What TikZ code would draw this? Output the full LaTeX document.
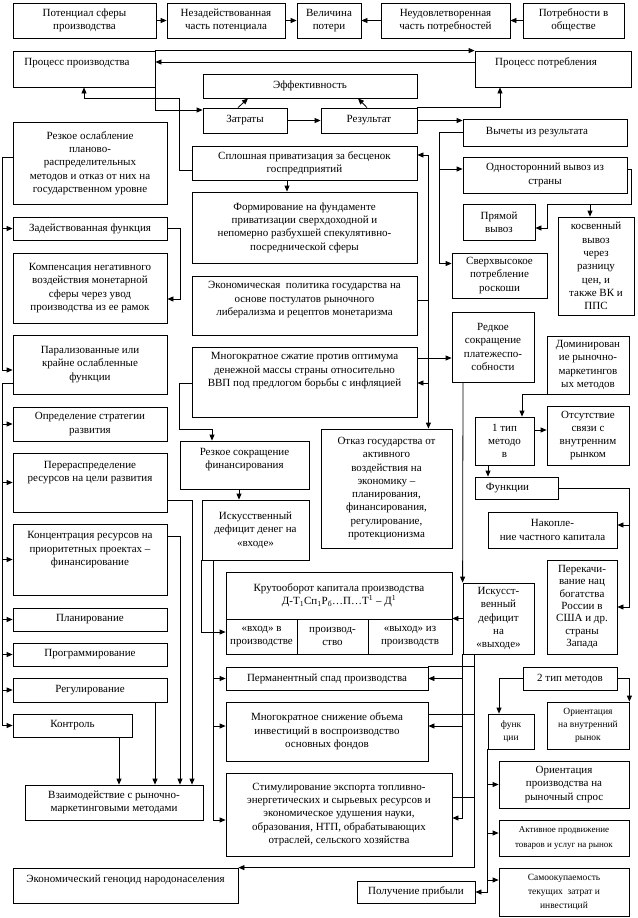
\documentclass[tikz,border=0pt]{standalone}
\usepackage{fontspec}
\setmainfont{Liberation Serif}
\usetikzlibrary{arrows.meta, positioning}

\begin{document}
\begin{tikzpicture}[x=1pt, y=-1pt, line width=0.8pt, >={Triangle[length=6pt,width=5pt]},
  bx/.style={draw, inner sep=1pt, align=center, font=\fontsize{11}{13.3}\selectfont},
  wh/.style 2 args={minimum width=#1pt, minimum height=#2pt},
  sm/.style={font=\fontsize{9.5}{13}\selectfont}
]
\useasboundingbox (0,0) rectangle (637,918);

% top row
\node[bx, wh={143}{35}] (potencial) at (84.5,20.5) {Потенциал сферы\\производства};
\node[bx, wh={118}{35}] (nezad) at (226,20.5) {Незадействованная\\часть потенциала};
\node[bx, wh={64}{35}] (velich) at (329,20.5) {Величина\\потери};
\node[bx, wh={129}{35}] (neudov) at (445.5,20.5) {Неудовлетворенная\\часть потребностей};
\node[bx, wh={101}{35}] (potreb) at (573.5,20.5) {Потребности в\\обществе};

% processes
\node[bx, wh={142}{36}] (prproizv) at (84,69) {Процесс производства\hspace*{14pt}\\[1.5pt]\mbox{}};
\node[bx, wh={156}{36}] (prpotr) at (553,69) {Процесс потребления\hspace*{14pt}\\[1.5pt]\mbox{}};
\node[bx, wh={214}{24}] (effekt) at (310,86) {Эффективность};
\node[bx, wh={84}{25}] (zatr) at (245,120.5) {Затраты};
\node[bx, wh={96}{25}] (rezult) at (369,120.5) {Результат};
\node[bx, wh={164}{27}] (vychety) at (545,132.5) {Вычеты из результата\hspace*{16pt}};

% middle column
\node[bx, wh={225}{34}] (sploshn) at (304.5,163) {Сплошная приватизация за бесценок\\госпредприятий};
\node[bx, wh={225}{71}] (formir) at (304.5,227.5) {Формирование на фундаменте\\приватизации сверхдоходной и\\непомерно разбухшей спекулятивно-\\посреднической сферы};
\node[bx, wh={225}{59}] (ekpol) at (304.5,305.5) {Экономическая\ \ политика государства на\\основе постулатов рыночного\\либерализма и рецептов монетаризма\\[0.5pt]\mbox{}};
\node[bx, wh={225}{70}] (szhatie) at (304.5,382) {Многократное сжатие против оптимума\\денежной массы страны относительно\\ВВП под предлогом борьбы с инфляцией\\[11.5pt]\mbox{}};
\node[bx, wh={131}{119}] (otkaz) at (386.5,488.5) {Отказ государства от\\активного\\воздействия на\\экономику –\\планирования,\\финансирования,\\регулирование,\\протекционизма};
\node[bx, wh={129}{48}] (rezsokr) at (244.5,465) {Резкое сокращение\\финансирования\\[-0.5pt]\mbox{}};
\node[bx, wh={107}{60}] (iskdef) at (255.5,530) {Искусственный\\дефицит денег на\\«входе»};
\node[bx, wh={226}{47}] (krugtop) at (339,595.5) {Крутооборот капитала производства\\Д-Т\textsubscript{1}Сп\textsubscript{1}Р\textsubscript{б}…П…Т\textsuperscript{1} – Д\textsuperscript{1}};
\node[bx, wh={71}{35}] (krvhod) at (261.5,636.5) {«вход» в\\производстве};
\node[bx, wh={71}{35}] (krproizv) at (332.5,636.5) {производ-\\ство};
\node[bx, wh={84}{35}] (krvyhod) at (410,636.5) {«выход» из\\производств};
\node[bx, wh={202}{23}] (perman) at (327,678.5) {Перманентный спад производства};
\node[bx, wh={202}{59}] (snizh) at (327,731.5) {Многократное снижение объема\\инвестиций в воспроизводство\\основных фондов};
\node[bx, wh={226}{83}] (stimul) at (339,814.5) {Стимулирование экспорта топливно-\\энергетических и сырьевых ресурсов и\\экономическое удушения науки,\\образования, НТП, обрабатывающих\\отраслей, сельского хозяйства};
\node[bx, wh={118}{22}] (pribyl) at (416,892) {Получение прибыли};

% left column
\node[bx, wh={154}{82}] (oslab) at (90,163) {Резкое ослабление\\планово-\\распределительных\\методов и отказ от них на\\государственном уровне};
\node[bx, wh={154}{23}] (zadeistv) at (90,228.5) {Задействованная функция};
\node[bx, wh={154}{70}] (kompens) at (90,288) {Компенсация негативного\\воздействия монетарной\\сферы через увод\\производства из ее рамок};
\node[bx, wh={154}{59}] (paraliz) at (90,364.5) {Парализованные или\\крайне ослабленные\\функции};
\node[bx, wh={154}{34}] (opredel) at (90,424) {Определение стратегии\\развития};
\node[bx, wh={154}{59}] (pereraspr) at (90,482.5) {Перераспределение\\ресурсов на цели развития\\[9.5pt]\mbox{}};
\node[bx, wh={154}{71}] (konc) at (90,559.5) {Концентрация ресурсов на\\приоритетных проектах –\\финансирование\\[8.5pt]\mbox{}};
\node[bx, wh={154}{23}] (plan) at (90,619.5) {Планирование};
\node[bx, wh={154}{23}] (progr) at (90,654.5) {Программирование};
\node[bx, wh={154}{24}] (regul) at (90,690) {Регулирование};
\node[bx, wh={119}{23}] (kontrol) at (72.5,725.5) {Контроль};
\node[bx, wh={178}{35}] (vzaim) at (114,802.5) {Взаимодействие с рыночно-\\маркетинговыми методами};
\node[bx, wh={225}{35}] (genocid) at (125.5,885.5) {Экономический геноцид народонаселения\\[0.5pt]\mbox{}};

% right column
\node[bx, wh={164}{36}] (odnostor) at (545,175) {Односторонний вывоз из\\страны};
\node[bx, wh={72}{36}] (pryam) at (499,222) {Прямой\\вывоз};
\node[bx, wh={76}{98}] (kosv) at (596,266) {косвенный\\вывоз\\через\\разницу\\цен, и\\также ВК и\\ППС};
\node[bx, wh={95}{45}] (sverh) at (499.5,275.5) {Сверхвысокое\\потребление\\роскоши};
\node[bx, wh={82}{70}] (redk) at (493,347) {Редкое\\сокращение\\платежеспо-\\собности};
\node[bx, wh={82}{58}] (domin) at (588,365) {Доминирован\\ие рыночно-\\маркетингов\\ых методов};
\node[bx, wh={59}{48}] (tip1) at (504.5,441) {1 тип\\методо\\в};
\node[bx, wh={82}{59}] (otsutstv) at (588,435.5) {Отсутствие\\связи с\\внутренним\\рынком};
\node[bx, wh={83}{22}] (funkcii) at (516.5,488) {Функции\hspace*{18pt}};
\node[bx, wh={129}{36}] (nakopl) at (552.5,530) {Накопле-\\ние частного капитала};
\node[bx, wh={70}{94}, font=\fontsize{11}{12.3}\selectfont] (perekach) at (582,607) {Перекачи-\\вание нац\\богатства\\России в\\США и др.\\страны\\Запада};
\node[bx, wh={71}{71}] (iskvyh) at (498.5,618.5) {Искусст-\\венный\\дефицит\\на\\«выходе»};
\node[bx, wh={94}{23}] (tip2) at (570,678.5) {2 тип методов};
\node[bx, wh={46}{35}, sm] (fnk) at (511,731.5) {функ\\ции};
\node[bx, wh={82}{47}, sm] (orvnutr) at (588,725.5) {Ориентация\\на внутренний\\рынок};
\node[bx, wh={130}{47}] (orspros) at (564,784.5) {Ориентация\\производства на\\рыночный спрос};
\node[bx, wh={130}{36}, font=\fontsize{9}{15}\selectfont] (aktiv) at (564,838) {Активное продвижение\\товаров и услуг на рынок};
\node[bx, wh={130}{48}, font=\fontsize{9.5}{14}\selectfont] (samook) at (564,892) {Самоокупаемость\\текущих\ \ затрат и\\инвестиций};

% connectors: top
\draw[->] (potencial) -- (nezad);
\draw[->] (nezad) -- (velich);
\draw[->] (neudov) -- (velich);
\draw[->] (potreb) -- (neudov);
\draw[->] (prproizv.north east) -- (prpotr.north west);
\draw[->] ([yshift=7pt]prpotr.west) -- ([yshift=7pt]prproizv.east);
\draw[->] (prproizv.south east) |- ([yshift=10.5pt]zatr.west);
\draw[->] (zatr) -- (rezult);
\draw[->] ([xshift=-7pt]zatr.north) -- ([xshift=-62pt]effekt.south);
\draw[->] ([xshift=-2pt]rezult.north) -- ([xshift=48pt]effekt.south);
\draw[->] (rezult.north east) -| ([xshift=-53pt]prpotr.south);
\draw[->] (rezult.east) -- (rezult.east -| vychety.west);
\draw[->] ([yshift=-7pt]sploshn.west) -- ++(-12,0) -- ++(0,-72) -| (prproizv.south);

% right branch
\draw[->] (vychety.west) -- ++(-23,0) coordinate (bv) |- ([yshift=12pt]sverh.west);
\draw[->] ([yshift=6pt]odnostor.west -| bv) -- ([yshift=6pt]odnostor.west);
\coordinate (jk) at (631,204);
\draw[->] ([yshift=6pt]odnostor.east) -| (jk) -- ++(-84,0) |- ([yshift=-6pt]pryam.east);
\draw[->] ([xshift=-6pt]kosv.north |- jk) -- ([xshift=-6pt]kosv.north);

% middle branch
\draw[->] ([xshift=-17.5pt]sploshn.south) -- ([xshift=-17.5pt]formir.north);
\draw ([yshift=5.5pt]ekpol.east) -- ++(11,0) coordinate (bus);
\draw[->] (bus) |- ([yshift=8pt]sploshn.east);
\draw[->] (bus) -- (bus |- otkaz.north);
\draw[->] ([yshift=-1pt]szhatie.east -| bus) -- ([yshift=-1pt]szhatie.east);
\draw[->] ([yshift=24pt]szhatie.east) -- ([yshift=24pt]szhatie.east -| redk.west);
\draw[->] ([yshift=-1pt]szhatie.west) -- ++(-12,0) -- ++(0,46) -| ([xshift=-32.5pt]rezsokr.north);
\draw[->] ([xshift=-5.5pt]rezsokr.south) -- ([xshift=-5.5pt]rezsokr.south |- iskdef.north);
\draw[->] (iskdef.south west) |- ([yshift=4.5pt]krvhod.west);
\draw[->] ([xshift=-42.5pt]iskdef.south) coordinate (bl3) |- ([yshift=-5.5pt]stimul.west);
\draw[->] (bl3 |- perman.west) -- (perman.west);
\draw[->] ([yshift=5.5pt]snizh.west -| bl3) -- ([yshift=5.5pt]snizh.west);

% left branch
\draw[->] ([yshift=6pt]oslab.west) -- ++(-10,0) coordinate (bl1) |- ([yshift=-5.5pt]paraliz.west);
\draw[->] (bl1 |- zadeistv.west) -- (zadeistv.west);
\draw[->] (zadeistv.east) -- ++(13,0) |- ([yshift=-11pt]kompens.east);
\draw[->] ([yshift=-18.5pt]paraliz.west) -- ++(-10,0) coordinate (bl2) |- (kontrol.west);
\foreach \n in {opredel, pereraspr, konc, plan, progr, regul}
  \draw[->] (bl2 |- \n.west) -- (\n.west);
\draw[->] ([yshift=-17.5pt]pereraspr.east) -| ([xshift=78pt]vzaim.north);
\draw[->] ([yshift=23.5pt]konc.east) -| ([xshift=66pt]vzaim.north);
\draw[->] ([xshift=65pt]regul.south) -- ([xshift=65pt]regul.south |- vzaim.north);
\draw[->] ([xshift=46.5pt]kontrol.south) -- ([xshift=46.5pt]kontrol.south |- vzaim.north);

% output deficit
\draw[->] ([xshift=-30pt]redk.south) -- (iskvyh.north west);
\draw[->] (iskvyh.west) -- (iskvyh.west -| krugtop.east);
\draw[->] (iskvyh.south west) |- ([yshift=-3.5pt]stimul.east);
\draw[->] (iskvyh.south west |- perman.east) -- (perman.east);
\draw[->] ([yshift=5.5pt]snizh.east -| iskvyh.south west) -- ([yshift=5.5pt]snizh.east);
\draw[->] ([xshift=-24.5pt]iskvyh.south) coordinate (br1) |- (genocid.north east);
\draw (perman.north east) -- (perman.north east -| br1);
\draw ([yshift=17.5pt]snizh.east) -- ([yshift=17.5pt]snizh.east -| br1);
\draw ([yshift=17.5pt]stimul.east) -- ([yshift=17.5pt]stimul.east -| br1);

% methods
\draw[->] (domin.south west) -| ([xshift=17.5pt]tip1.north);
\draw[->] ([yshift=11pt]tip1.east) -- ([yshift=11pt]tip1.east -| otsutstv.west);
\draw[->] ([xshift=-16.5pt]tip1.south) -- ([xshift=-16.5pt]tip1.south |- funkcii.north);
\draw[->] (funkcii.east) -- ++(71,0) coordinate (br2) |- (perekach.east);
\draw[->] ([yshift=5pt]nakopl.east -| br2) -- ([yshift=5pt]nakopl.east);
\draw[->] (tip2.west) -| ([xshift=-12pt]fnk.north);
\draw[->] (tip2.east) -| (orvnutr.north east);
\draw[->] (fnk.south west) |- (pribyl.east);
\draw[->] (fnk.south west |- orspros.west) -- (orspros.west);
\draw[->] ([yshift=5pt]aktiv.west -| fnk.south west) -- ([yshift=5pt]aktiv.west);
\draw[->] ([yshift=12pt]samook.west -| fnk.south west) -- ([yshift=12pt]samook.west);
\end{tikzpicture}
\end{document}
